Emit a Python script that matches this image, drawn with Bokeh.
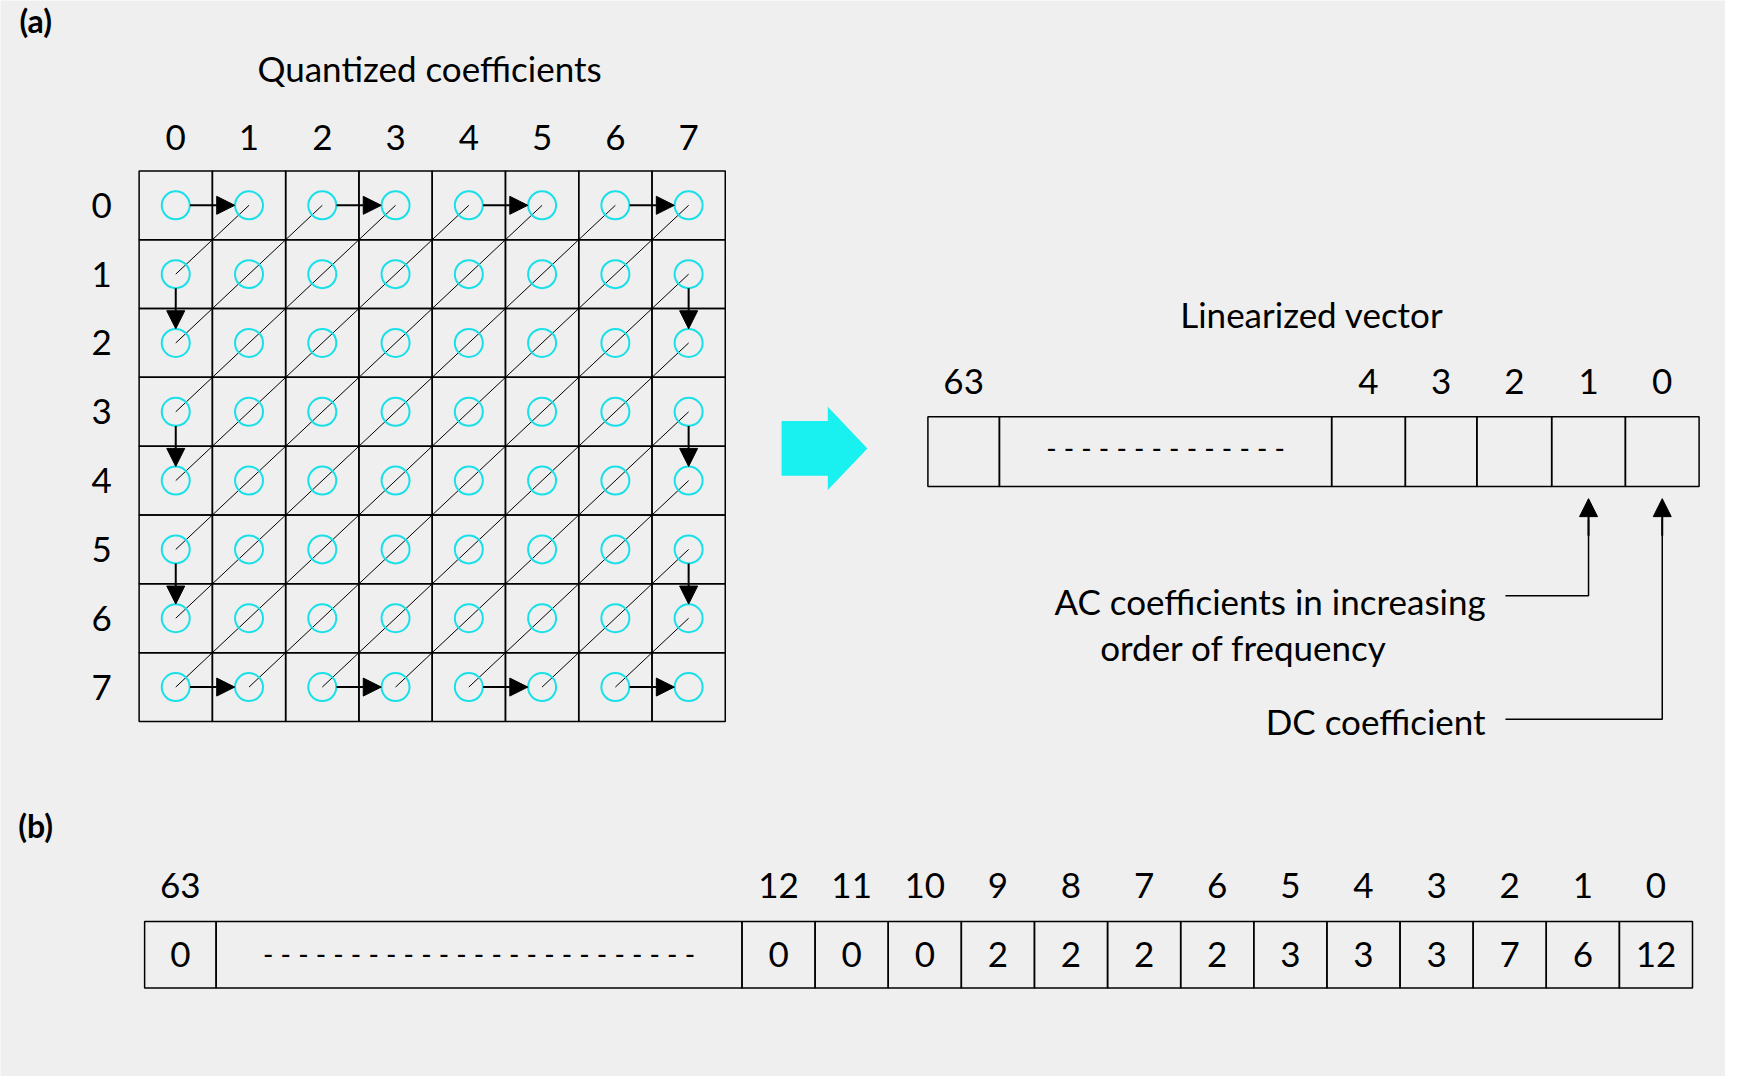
from bokeh.plotting import figure
from bokeh.models import Range1d, Arrow, NormalHead
from bokeh.embed import file_html
from bokeh.resources import INLINE
from bokeh.core.properties import value

# data
grid_labels = ["0", "1", "2", "3", "4", "5", "6", "7"]
vec_labels = ["63", "4", "3", "2", "1", "0"]
b_indices = ["12", "11", "10", "9", "8", "7", "6", "5", "4", "3", "2", "1", "0"]
b_values = ["0", "0", "0", "2", "2", "2", "2", "3", "3", "3", "7", "6", "12"]
b_first_value = "0"

FONT = value("Lato")
FS = "35px"

p = figure(width=1725, height=1076, output_backend="svg", toolbar_location=None,
           x_range=Range1d(0, 1568), y_range=Range1d(985, 0))
p.axis.visible = False
p.grid.visible = False
p.outline_line_color = None
p.min_border = 0
p.background_fill_color = "#efefef"
p.border_fill_color = "#efefef"

def txt(x, y, s, align="center", size=FS, style="normal"):
    p.text(x=[x], y=[y], text=[s], text_align=align, text_baseline="middle",
           text_font=FONT, text_font_size=size, text_font_style=style, text_color="black")

def arrow(x0, y0, x1, y1):
    p.add_layout(Arrow(end=NormalHead(size=18, fill_color="black", line_color="black"),
                       x_start=x0, y_start=y0, x_end=x1, y_end=y1, line_width=2))

txt(32, 18, "(a)", size="32px", style="bold")
txt(32, 755, "(b)", size="32px", style="bold")

# (a) grid
gx0, gy0, cw, ch = 126, 156, 66.6, 63.0
txt(390, 62, "Quantized coefficients")
cx = [gx0 + cw * (i + 0.5) for i in range(8)]
cy = [gy0 + ch * (i + 0.5) for i in range(8)]
for i, lab in enumerate(grid_labels):
    txt(cx[i], 125, lab)
    txt(92, cy[i], lab)
p.quad(left=[gx0 + cw * c for r in range(8) for c in range(8)],
       right=[gx0 + cw * (c + 1) for r in range(8) for c in range(8)],
       top=[gy0 + ch * r for r in range(8) for c in range(8)],
       bottom=[gy0 + ch * (r + 1) for r in range(8) for c in range(8)],
       fill_color=None, line_color="black", line_width=1.5)

# zigzag diagonals
for s in range(1, 14):
    cells = [(r, s - r) for r in range(8) if 0 <= s - r < 8]
    (r0, c0), (r1, c1) = cells[0], cells[-1]
    p.line([cx[c0], cx[c1]], [cy[r0], cy[r1]], line_color="black", line_width=1)

p.scatter(x=[cx[c] for r in range(8) for c in range(8)],
          y=[cy[r] for r in range(8) for c in range(8)],
          size=28, marker="circle", fill_color=None, line_color="#19e0e8", line_width=2)

for c in (0, 2, 4, 6):
    arrow(cx[c] + 13, cy[0], cx[c + 1] - 13, cy[0])
    arrow(cx[c] + 13, cy[7], cx[c + 1] - 13, cy[7])
for r in (1, 3, 5):
    arrow(cx[0], cy[r] + 13, cx[0], cy[r + 1] - 13)
    arrow(cx[7], cy[r] + 13, cx[7], cy[r + 1] - 13)

# big cyan arrow
p.patch(x=[710, 752, 752, 788, 752, 752, 710], y=[385, 385, 372, 410, 448, 435, 435],
        fill_color="#19f0f0", line_color=None)

# linearized vector
txt(1192, 287, "Linearized vector")
edges = [843, 908, 1210, 1277, 1342, 1410, 1477, 1544]
p.quad(left=edges[:-1], right=edges[1:], top=381, bottom=445,
       fill_color=None, line_color="black", line_width=1.5)
lab_x = [(edges[0] + edges[1]) / 2] + [(edges[i] + edges[i + 1]) / 2 for i in range(2, 7)]
for x, lab in zip(lab_x, vec_labels):
    txt(x, 349, lab)
txt((edges[1] + edges[2]) / 2, 410, "- - - - - - - - - - - - - -", size="28px")

ac_x = (edges[5] + edges[6]) / 2
dc_x = (edges[6] + edges[7]) / 2
p.line([1368, ac_x, ac_x], [545, 545, 475], line_color="black", line_width=1.5)
p.line([1368, dc_x, dc_x], [658, 658, 475], line_color="black", line_width=1.5)
arrow(ac_x, 490, ac_x, 456)
arrow(dc_x, 490, dc_x, 456)
txt(1350, 550, "AC coefficients in increasing", align="right")
txt(1130, 592, "order of frequency")
txt(1350, 660, "DC coefficient", align="right")

# (b) vector
b_edges = [131, 196, 674] + [674 + (1538 - 674) / 13 * (i + 1) for i in range(13)]
p.quad(left=b_edges[:-1], right=b_edges[1:], top=843, bottom=904,
       fill_color=None, line_color="black", line_width=1.5)
txt((b_edges[0] + b_edges[1]) / 2, 810, "63")
txt((b_edges[0] + b_edges[1]) / 2, 873, b_first_value)
txt((b_edges[1] + b_edges[2]) / 2, 873, "- - - - - - - - - - - - - - - - - - - - - - - - -", size="28px")
for i in range(13):
    xc = (b_edges[i + 2] + b_edges[i + 3]) / 2
    txt(xc, 810, b_indices[i])
    txt(xc, 873, b_values[i])

open("out.html", "w").write(file_html(p, INLINE))
